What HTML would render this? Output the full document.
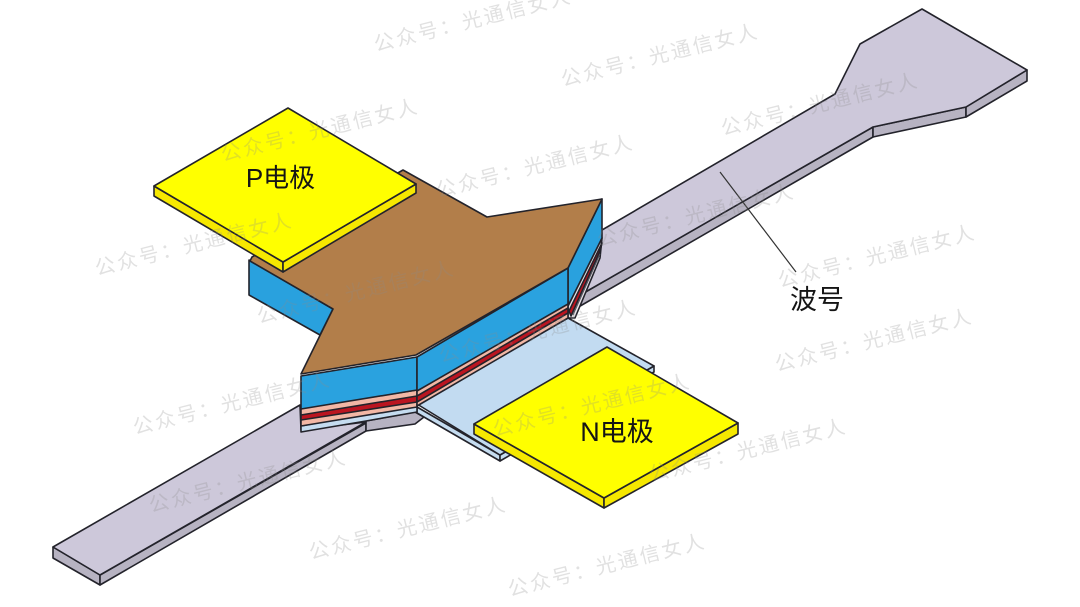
<!DOCTYPE html>
<html lang="zh">
<head>
<meta charset="utf-8">
<title>Diagram</title>
<style>
html,body{margin:0;padding:0;background:#fff;width:1080px;height:607px;overflow:hidden}
svg{display:block}
.s{stroke:#23232b;stroke-width:1.6;stroke-linejoin:round}
text{font-family:"Liberation Sans","Noto Sans CJK SC",sans-serif}
.l{fill:#151515;text-anchor:middle}
.w{fill:#8a8a8a;fill-opacity:.26;font-size:20px;letter-spacing:2.6px;text-anchor:middle}
</style>
</head>
<body>
<svg width="1080" height="607" viewBox="0 0 1080 607" xmlns="http://www.w3.org/2000/svg">
<!-- waveguide -->
<g class="s">
<polygon fill="#b7b3c2" points="100,575 100,585 53,558 53,547"/>
<polygon fill="#b7b3c2" points="100,575 366,423 366,431 100,585"/>
<polygon fill="#b7b3c2" points="366,421 415,412 424,417 415,424 366,431"/>
<polygon fill="#b7b3c2" points="575,298 873,127 873,137 575,309"/>
<polygon fill="#b7b3c2" points="873,127 966,107 966,117 873,137"/>
<polygon fill="#b7b3c2" points="966,107 1027,70 1027,81 966,117"/>
<polygon fill="#cdc8da" points="53,547 300,405 301,430 366,422 100,575"/>
<polygon fill="#cdc8da" points="590,237 835,94 860,44 922,9 1027,70 966,107 873,127 575,298 568,300"/>
</g>
<!-- N layer -->
<g class="s">
<polygon fill="#c5dcf0" points="417,407 500,455 500,461 417,413"/>
<polygon fill="#c5dcf0" points="500,455 654,366 654,372 500,461"/>
<polygon fill="#c2dbf1" points="417,404 568,318 654,366 500,455"/>
</g>
<!-- back blue side -->
<polygon class="s" fill="#29a1de" points="249,260 333,309 320,335 249,295"/>
<!-- right side face layers -->
<polygon class="s" fill="#e8e4e8" points="568,306 602,238 600,258 575,318 568,318"/>
<polygon fill="none" stroke="#55555f" stroke-width="1" points="573,315 600,254"/>
<polygon class="s" fill="#b9141f" stroke-width="1" points="569,311 602,243 600,251 571,316"/>
<polygon class="s" fill="#29a1de" points="568,268 602,199 602,238 568,306"/>
<!-- front left layers -->
<polygon class="s" fill="#c5dcf0" points="301,426 417,404 417,412 366,421 301,432"/>
<polygon class="s" fill="#f2b7a5" points="301,408 417,390 417,407 301,426"/>
<polygon class="s" fill="#bb1520" points="301,415 417,396 417,402 301,420"/>
<polygon class="s" fill="#2aa2df" points="301,376 417,357 417,390 301,409"/>
<!-- front right layers -->
<polygon class="s" fill="#f2b7a5" points="417,390 568,302 568,318 417,406"/>
<polygon class="s" fill="#bb1520" points="417,396 568,308 568,313 417,402"/>
<polygon class="s" fill="#2aa2df" points="417,357 568,268 568,304 417,391"/>
<!-- brown top -->
<polygon class="s" fill="#b27e4a" points="301,374 333,309 250,261 252,257 403,170 487,217 602,199 568,268 416,355"/>
<!-- P electrode -->
<g class="s">
<polygon fill="#f6e800" points="154,186 283,262 283,272 154,196"/>
<polygon fill="#f6e800" points="283,262 416,184 416,193 283,272"/>
<polygon fill="#ffff00" points="154,186 288,108 416,184 283,262"/>
</g>
<!-- N electrode -->
<g class="s">
<polygon fill="#f6e800" points="474,424 604,498 604,508 474,434"/>
<polygon fill="#f6e800" points="604,498 738,423 738,434 604,508"/>
<polygon fill="#ffff00" points="474,424 607,347 738,423 604,498"/>
</g>
<!-- leader -->
<line x1="720" y1="172" x2="796" y2="272" stroke="#333" stroke-width="1.2"/>
<!-- labels -->
<text class="l" x="280.500" y="187" font-size="26">P电极</text>
<text class="l" x="617" y="441" font-size="27">N电极</text>
<text class="l" x="817" y="309" font-size="27">波号</text>
<!-- watermarks -->
<text class="w" transform="translate(473,20) rotate(-14)" y="7">公众号：光通信女人</text>
<text class="w" transform="translate(660,55) rotate(-14)" y="7">公众号：光通信女人</text>
<text class="w" transform="translate(820,104) rotate(-14)" y="7">公众号：光通信女人</text>
<text class="w" transform="translate(320,130) rotate(-14)" y="7">公众号：光通信女人</text>
<text class="w" transform="translate(535,166) rotate(-14)" y="7">公众号：光通信女人</text>
<text class="w" transform="translate(696,215) rotate(-14)" y="7">公众号：光通信女人</text>
<text class="w" transform="translate(194,244) rotate(-14)" y="7">公众号：光通信女人</text>
<text class="w" transform="translate(877,256) rotate(-14)" y="7">公众号：光通信女人</text>
<text class="w" transform="translate(356,292) rotate(-14)" y="7">公众号：光通信女人</text>
<text class="w" transform="translate(874,340) rotate(-14)" y="7">公众号：光通信女人</text>
<text class="w" transform="translate(538,331) rotate(-14)" y="7">公众号：光通信女人</text>
<text class="w" transform="translate(232,403) rotate(-14)" y="7">公众号：光通信女人</text>
<text class="w" transform="translate(592,405) rotate(-14)" y="7">公众号：光通信女人</text>
<text class="w" transform="translate(748,450) rotate(-14)" y="7">公众号：光通信女人</text>
<text class="w" transform="translate(248,481) rotate(-14)" y="7">公众号：光通信女人</text>
<text class="w" transform="translate(408,528) rotate(-14)" y="7">公众号：光通信女人</text>
<text class="w" transform="translate(607,565) rotate(-14)" y="7">公众号：光通信女人</text>
</svg>
</body>
</html>
